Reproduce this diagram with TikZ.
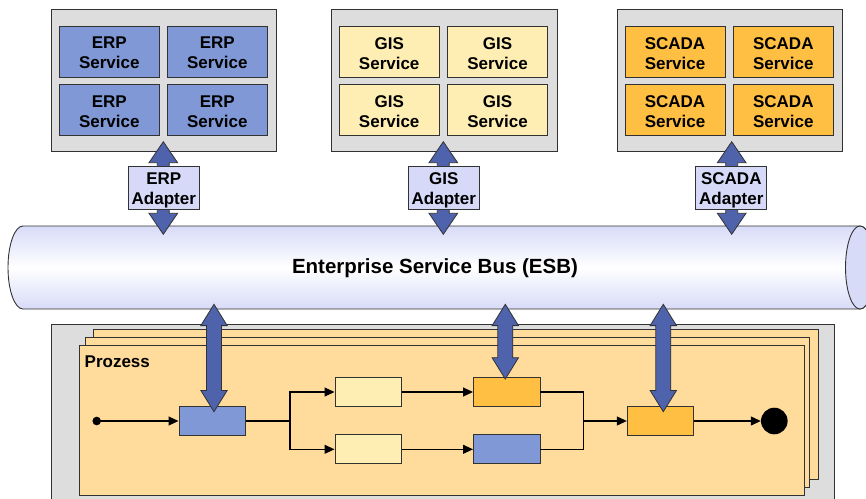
\documentclass[tikz,border=0pt]{standalone}
\usepackage{fontspec}
\setmainfont{Liberation Sans}
\usetikzlibrary{arrows.meta,calc}
\definecolor{panelgray}{RGB}{221,221,221}
\definecolor{erpblue}{RGB}{128,153,214}
\definecolor{gisyellow}{RGB}{255,238,180}
\definecolor{scadaorange}{RGB}{255,191,66}
\definecolor{adapterfill}{RGB}{214,218,248}
\definecolor{cylfill}{RGB}{216,219,248}
\definecolor{procfill}{RGB}{255,219,156}
\definecolor{arrowblue}{RGB}{79,99,172}
\definecolor{edgegray}{RGB}{50,50,50}
\tikzset{
  panel/.style={draw=edgegray, line width=0.9pt, fill=panelgray},
  svctext/.style={align=center, inner sep=0pt, yshift=-1.5pt, font=\fontsize{17}{20}\selectfont\bfseries},
  svc/.style={draw=edgegray, line width=0.9pt, minimum width=100pt, minimum height=51.5pt, inner sep=0pt},
  erp/.style={svc, fill=erpblue},
  gis/.style={svc, fill=gisyellow},
  scada/.style={svc, fill=scadaorange},
  adapter/.style={draw=edgegray, line width=0.9pt, fill=adapterfill, minimum width=71pt, minimum height=42.5pt, inner sep=0pt},
  adtext/.style={align=center, inner sep=0pt, yshift=-2.5pt, font=\fontsize{17}{19.8}\selectfont\bfseries},
  blockarrow/.style={draw=edgegray, line width=0.8pt, fill=arrowblue},
  layer/.style={draw=edgegray, line width=0.9pt, fill=procfill},
  task/.style={draw=edgegray, line width=0.9pt, minimum width=66.5pt, minimum height=29pt, inner sep=0pt},
  flow/.style={line width=1.1pt, -{Triangle[length=10pt,width=9pt]}},
  plain/.style={line width=1.1pt},
}
\newcommand\dblarr[6]{%
  \filldraw[blockarrow] (#1,#2) -- (#1+#5,#2+#6) -- (#1+#4,#2+#6) -- (#1+#4,#3-#6) -- (#1+#5,#3-#6) -- (#1,#3) -- (#1-#5,#3-#6) -- (#1-#4,#3-#6) -- (#1-#4,#2+#6) -- (#1-#5,#2+#6) -- cycle;}
\begin{document}
\begin{tikzpicture}[x=1pt,y=-1pt]
\useasboundingbox (0,0) rectangle (866,498);
% ---------------- panels
\filldraw[panel] (51,9.5) rectangle (276,151.5);
\filldraw[panel] (331,9.5) rectangle (557,151.5);
\filldraw[panel] (617,9.5) rectangle (842,151.5);
\node[erp, label={[svctext]center:{ERP\\Service}}] (e1) at (109.3,51.7) {};
\node[erp, label={[svctext]center:{ERP\\Service}}] (e2) at (217.3,51.7) {};
\node[erp, label={[svctext]center:{ERP\\Service}}] (e3) at (109.3,110) {};
\node[erp, label={[svctext]center:{ERP\\Service}}] (e4) at (217.3,110) {};
\node[gis, label={[svctext]center:{GIS\\Service}}] (g1) at (389.2,51.7) {};
\node[gis, label={[svctext]center:{GIS\\Service}}] (g2) at (497.5,51.7) {};
\node[gis, label={[svctext]center:{GIS\\Service}}] (g3) at (389.2,110) {};
\node[gis, label={[svctext]center:{GIS\\Service}}] (g4) at (497.5,110) {};
\node[scada, label={[svctext]center:{SCADA\\Service}}] (s1) at (675,51.7) {};
\node[scada, label={[svctext]center:{SCADA\\Service}}] (s2) at (783.3,51.7) {};
\node[scada, label={[svctext]center:{SCADA\\Service}}] (s3) at (675,110) {};
\node[scada, label={[svctext]center:{SCADA\\Service}}] (s4) at (783.3,110) {};
% ---------------- bus cylinder
\shade[top color=cylfill, bottom color=cylfill, middle color=white, draw=edgegray, line width=0.9pt]
  (23,226) -- (860,226) arc[start angle=90, end angle=-90, x radius=14.5, y radius=-41.5]
  -- (23,309) arc[start angle=270, end angle=90, x radius=15, y radius=-41.5] -- cycle;
\filldraw[fill=cylfill, draw=edgegray, line width=0.9pt] (860,267.5) ellipse[x radius=14.5, y radius=41.5];
\node[font=\fontsize{20.5}{24}\selectfont\bfseries] (esb) at (435,268) {Enterprise Service Bus (ESB)};
% ---------------- process area
\filldraw[draw=edgegray, line width=0.9pt, fill=panelgray] (51,324.5) rectangle (834,510);
\filldraw[layer] (93,329.5) rectangle (818,479);
\filldraw[layer] (85,337.5) rectangle (809.5,487);
\filldraw[layer] (79.5,345.5) rectangle (804,495.3);
\node[anchor=west, font=\fontsize{17}{20}\selectfont\bfseries, inner sep=0pt] (proz) at (84.5,362) {Prozess};
\fill (96.7,421) circle[radius=4.3] coordinate (start);
\node[task, fill=erpblue] (t1) at (212.2,421) {};
\node[task, fill=gisyellow] (t2) at (368.2,392) {};
\node[task, fill=gisyellow] (t3) at (368.2,449.3) {};
\node[task, fill=scadaorange] (t4) at (506.7,392) {};
\node[task, fill=erpblue] (t5) at (506.7,449.3) {};
\node[task, fill=scadaorange] (t6) at (660.5,421) {};
\node[circle, fill=black, minimum size=26.6pt, inner sep=0pt] (end) at (774.3,421) {};
\coordinate (split) at (290,421);
\coordinate (join) at (583.7,421);
\draw[flow] (start) -- (t1.west);
\draw[plain] (t1.east) -- (split);
\draw[flow] (split) |- (t2.west);
\draw[flow] (split) |- (t3.west);
\draw[flow] (t2.east) -- (t4.west);
\draw[flow] (t3.east) -- (t5.west);
\draw[plain] (t4.east) -| (join);
\draw[plain] (t5.east) -| (join);
\draw[flow] (join) -- (t6.west);
\draw[flow] (t6.east) -- (end.west);
% ---------------- block arrows
\dblarr{163.3}{141.7}{234.3}{6}{14.3}{21}
\dblarr{443.3}{141.7}{234.3}{6}{14.3}{21}
\dblarr{731.7}{141.7}{234.3}{6}{14.3}{21}
\dblarr{214}{304.3}{411.7}{7.5}{13.2}{21.3}
\dblarr{505.3}{304.3}{379}{7.5}{13.2}{21.3}
\dblarr{663.3}{304.3}{411.7}{7.5}{13.2}{21.3}
% ---------------- adapters
\node[adapter, label={[adtext]center:{ERP\\Adapter}}] (ea) at (163.8,188) {};
\node[adapter, label={[adtext]center:{GIS\\Adapter}}] (ga) at (443.8,188) {};
\node[adapter, label={[adtext]center:{SCADA\\Adapter}}] (sa) at (731.3,188) {};
\end{tikzpicture}
\end{document}
